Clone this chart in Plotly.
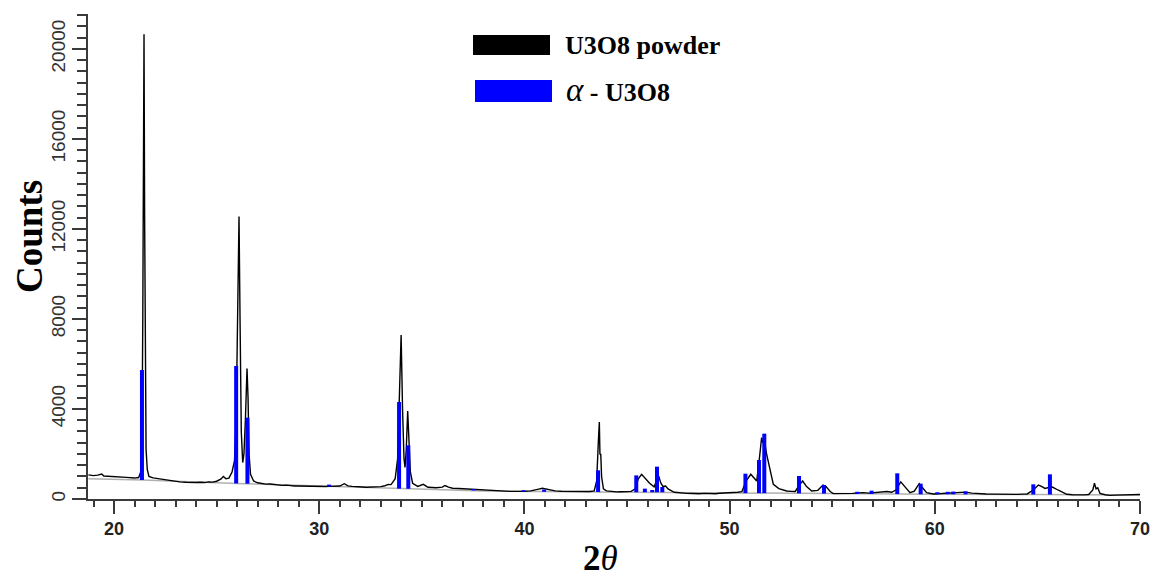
import plotly.graph_objects as go

two_theta = [18.75, 19.0, 19.2, 19.4, 19.5, 19.8, 20.2, 20.6, 21.0, 21.2, 21.3, 21.36, 21.40, 21.43, 21.46,
             21.49, 21.52, 21.56, 21.62, 21.7, 21.9, 22.1, 22.3, 22.5, 22.8, 23.0, 23.2, 23.5, 23.7, 24.0,
             24.2, 24.4, 24.6, 24.8, 25.0, 25.2, 25.33, 25.45, 25.6, 25.75, 25.87, 25.95, 26.02, 26.09,
             26.14, 26.2, 26.27, 26.33, 26.40, 26.48, 26.53, 26.58, 26.65, 26.8, 27.0, 27.2, 27.4, 27.6,
             27.8, 28.0, 28.2, 28.4, 28.6, 28.8, 29.0, 29.3, 29.5, 29.8, 30.0, 30.3, 30.5, 30.8, 31.0,
             31.22, 31.4, 31.6, 31.8, 32.1, 32.3, 32.6, 32.8, 33.0, 33.2, 33.37, 33.5, 33.7, 33.82, 33.9,
             33.99, 34.06, 34.13, 34.18, 34.24, 34.31, 34.37, 34.44, 34.55, 34.8, 35.07, 35.3, 35.5,
             35.7, 36.0, 36.13, 36.3, 36.5, 36.8, 37.1, 37.5, 37.8, 38.0, 38.3, 38.5, 38.8, 39.0, 39.3,
             39.5, 39.8, 40.0, 40.3, 40.5, 40.7, 40.87, 41.1, 41.3, 41.5, 41.8, 42.0, 42.27, 42.5, 42.8,
             43.0, 43.2, 43.4, 43.52, 43.6, 43.65, 43.68, 43.72, 43.76, 43.85, 44.0, 44.2, 44.5, 44.7,
             45.0, 45.2, 45.4, 45.55, 45.71, 45.9, 46.1, 46.32, 46.45, 46.54, 46.65, 46.75, 46.88, 47.0,
             47.3, 47.6, 47.9, 48.2, 48.5, 48.8, 49.0, 49.3, 49.5, 49.8, 50.18, 50.4, 50.6, 50.8, 51.03,
             51.2, 51.32, 51.45, 51.56, 51.62, 51.7, 51.8, 51.94, 52.13, 52.4, 52.6, 52.78, 53.0, 53.2,
             53.38, 53.56, 53.75, 54.0, 54.3, 54.55, 54.7, 54.9, 55.05, 55.3, 55.5, 55.8, 56.0, 56.3,
             56.5, 56.8, 57.0, 57.2, 57.4, 57.66, 57.9, 58.1, 58.34, 58.5, 58.79, 59.0, 59.24, 59.4,
             59.6, 59.93, 60.2, 60.5, 60.8, 61.0, 61.3, 61.5, 61.8, 62.0, 62.3, 62.5, 62.8, 63.0, 63.3,
             63.5, 63.8, 64.0, 64.3, 64.5, 64.8, 65.05, 65.2, 65.37, 65.55, 65.73, 66.0, 66.2, 66.43,
             66.7, 67.0, 67.3, 67.5, 67.7, 67.78, 67.86, 67.94, 68.05, 68.3, 68.54, 68.8, 69.0, 69.3,
             69.5, 69.84, 70.0]
counts = [1070, 1040, 1060, 1110, 1020, 1010, 985, 960, 930, 955, 1200, 2500, 8000, 17500, 20650,
          12500, 5000, 2200, 1300, 1000, 940, 910, 880, 860, 835, 790, 760, 745, 730, 735,
          745, 730, 760, 750, 790, 880, 1000, 900, 930, 1200, 1700, 3500, 8000, 12550,
          8000, 3000, 1620, 2000, 3500, 5800, 4500, 2000, 1100, 800, 720, 690, 660, 665,
          640, 620, 605, 615, 590, 580, 575, 565, 560, 550, 545, 555, 560, 550, 575,
          680, 585, 560, 540, 535, 525, 540, 535, 550, 590, 650, 640, 900, 1800, 4500,
          7290, 4000, 1800, 1400, 2200, 3910, 2800, 1200, 700, 560, 650, 520, 510,
          500, 525, 600, 525, 480, 465, 450, 425, 410, 400, 385, 365, 345, 330, 340,
          340, 330, 345, 360, 385, 440, 475, 430, 390, 360, 345, 340, 365, 330, 325,
          320, 335, 360, 800, 2500, 3420, 2000, 1980, 1000, 450, 360, 330, 315, 325,
          330, 340, 450, 900, 1100, 900, 700, 540, 800, 1020, 700, 560, 580, 450,
          300, 270, 250, 245, 230, 250, 240, 235, 255, 265, 280, 300, 330, 800, 1100,
          950, 800, 1800, 2730, 2500, 2600, 2000, 1390, 650, 460, 400, 355, 340, 335,
          600, 800, 550, 355, 385, 620, 550, 330, 240, 235, 230, 245, 250, 270,
          285, 260, 270, 290, 300, 330, 300, 400, 760, 600, 285, 350, 680, 500,
          280, 220, 240, 255, 270, 285, 300, 305, 260, 240, 225, 220, 215, 210, 225,
          220, 205, 205, 215, 225, 400, 620, 560, 470, 510, 530, 400, 300, 210,
          190, 180, 185, 200, 400, 700, 450, 500, 250, 190, 160, 170, 175, 190,
          200, 210, 200]

# ---- fitted background under the pattern ----
bg_theta = [18.75, 21.4, 26.0, 30.5, 34.0, 38.0, 43.6, 50.0, 55.0, 60.0, 65.0, 70.0]
bg_counts = [900, 844, 690, 560, 460, 360, 310, 260, 230, 210, 195, 175]

# ---- alpha-U3O8 reference reflections: position, top, bottom ----
ref_pos = [21.36, 25.95, 26.50, 30.48, 33.89, 34.34, 37.51, 39.95, 40.96, 43.59, 45.45, 45.87,
           46.23, 46.46, 46.72, 50.77, 51.43, 51.69, 53.38, 54.60, 56.22, 56.92, 58.17, 59.31,
           60.12, 60.63, 60.90, 61.50, 64.80, 65.61]
ref_top = [5730, 5910, 3615, 640, 4310, 2385, 440, 390, 420, 1275, 1050, 460,
           400, 1437, 533, 1126, 1733, 2904, 1022, 622, 320, 370, 1141, 681,
           300, 320, 330, 340, 652, 1096]
ref_base = [844, 690, 680, 560, 460, 455, 380, 330, 320, 310, 300, 300,
            300, 300, 300, 260, 260, 260, 250, 240, 225, 222, 220, 210,
            210, 210, 210, 208, 200, 198]

x_ticks = [20, 30, 40, 50, 60, 70]
y_ticks = [0, 4000, 8000, 12000, 16000, 20000]

stick_x, stick_y = [], []
for p, t, b in zip(ref_pos, ref_top, ref_base):
    stick_x += [p, p, None]
    stick_y += [b, t, None]

fig = go.Figure()
fig.add_trace(go.Scatter(x=bg_theta, y=bg_counts, mode="lines",
                         line=dict(color="#b0b0b0", width=1.5), hoverinfo="skip",
                         showlegend=False))
fig.add_trace(go.Scatter(x=two_theta, y=counts, mode="lines",
                         line=dict(color="black", width=1.4), name="U3O8 powder",
                         showlegend=False))
fig.add_trace(go.Scatter(x=stick_x, y=stick_y, mode="lines",
                         line=dict(color="#0000ff", width=4), name="α - U3O8",
                         showlegend=False))

axis_col = "#3a3a3a"
fig.update_layout(
    width=1152, height=579,
    margin=dict(l=88, r=12, t=14, b=80, autoexpand=False),
    paper_bgcolor="white", plot_bgcolor="white",
    showlegend=False,
    font=dict(family="Liberation Sans, Arial", color="#222"),
)
fig.update_xaxes(
    automargin=False,
    range=[18.73, 70.0], tickvals=x_ticks, ticktext=[str(v) for v in x_ticks],
    showgrid=False, zeroline=False, showline=True, linecolor=axis_col, linewidth=1.5,
    ticks="outside", ticklen=13, tickwidth=1.5, tickcolor=axis_col,
    tickfont=dict(size=18, family="Liberation Sans, Arial", color="#222", weight="bold"),
    minor=dict(dtick=1, tick0=0, ticks="outside", ticklen=6, tickwidth=1.5, tickcolor=axis_col),
)
fig.update_yaxes(
    automargin=False,
    range=[0, 21550], tickvals=y_ticks, ticktext=[str(v) for v in y_ticks],
    tickangle=-90,
    showgrid=False, zeroline=False, showline=True, linecolor=axis_col, linewidth=1.5,
    ticks="outside", ticklen=14, tickwidth=1.5, tickcolor=axis_col,
    tickfont=dict(size=19, family="Liberation Sans, Arial", color="#333"),
    minor=dict(dtick=500, tick0=0, ticks="outside", ticklen=9, tickwidth=1.5, tickcolor=axis_col),
)

W, H = 1052.0, 485.0
def px_x(p):
    return (p - 88) / W
def px_y(p):
    return (499 - p) / H

# axis titles
fig.add_annotation(text="<b>Counts</b>", xref="paper", yref="paper",
                   x=px_x(29), y=px_y(237), xanchor="center", yanchor="middle",
                   textangle=-90, showarrow=False,
                   font=dict(family="Liberation Serif, Times New Roman", size=37, color="black"))
fig.add_annotation(text="<b>2</b><i>θ</i>", xref="paper", yref="paper",
                   x=px_x(600), y=px_y(558), xanchor="center", yanchor="middle", showarrow=False,
                   font=dict(family="Liberation Serif, Times New Roman", size=35, color="black"))

# manual legend
fig.add_shape(type="rect", xref="paper", yref="paper",
              x0=px_x(473), x1=px_x(550), y0=px_y(55), y1=px_y(35),
              fillcolor="black", line=dict(width=0))
fig.add_shape(type="rect", xref="paper", yref="paper",
              x0=px_x(475), x1=px_x(552), y0=px_y(102), y1=px_y(80),
              fillcolor="#0000ff", line=dict(width=0))
fig.add_annotation(text="<b>U3O8 powder</b>", xref="paper", yref="paper",
                   x=px_x(563), y=px_y(45), xanchor="left", yanchor="middle", showarrow=False,
                   font=dict(family="Liberation Serif, Times New Roman", size=26, color="black"))
fig.add_annotation(text="<span style='font-size:33px'><i>α</i></span><b> - U3O8</b>",
                   xref="paper", yref="paper",
                   x=px_x(564), y=px_y(90), xanchor="left", yanchor="middle", showarrow=False,
                   font=dict(family="Liberation Serif, Times New Roman", size=26, color="black"))

fig.write_html("out.html", config={"displayModeBar": False},
               post_script="document.body.style.margin='0';document.body.style.overflow='hidden';")
